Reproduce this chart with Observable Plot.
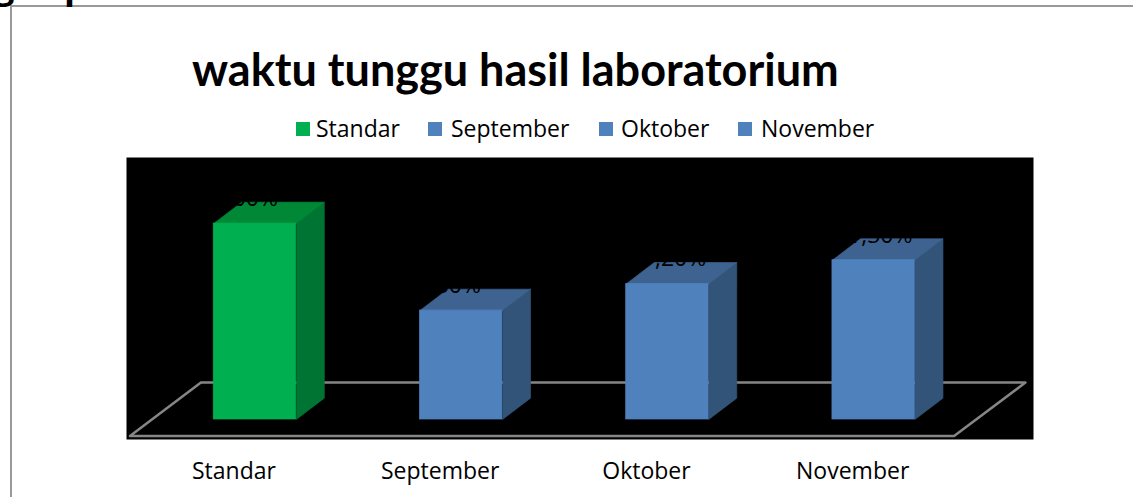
<!DOCTYPE html>
<html><head><meta charset="utf-8">
<script src="https://cdn.jsdelivr.net/npm/d3@7"></script>
<script src="https://cdn.jsdelivr.net/npm/@observablehq/plot@0.6"></script>
<style>
html,body{margin:0;padding:0;background:#fff;overflow:hidden;}
#page{position:relative;width:1133px;height:497px;overflow:hidden;font-family:"Open Sans",sans-serif;color:#000;}
#edge{position:absolute;left:10px;top:5px;right:-4px;bottom:-4px;border-left:2px solid #999;border-top:2px solid #999;}
#clip{position:absolute;left:-6px;top:-40px;font:bold 36px "Open Sans",sans-serif;}
#clip span{position:absolute;top:0;}
#title{position:absolute;left:192px;top:40px;font:bold 45px Lato,sans-serif;white-space:nowrap;line-height:58px;}
#legend span{position:absolute;top:112px;font-size:23px;line-height:32px;white-space:nowrap;}
#legend i{position:absolute;top:122px;width:14px;height:14px;}
#chart{position:absolute;left:0;top:157px;}
</style></head><body>
<div id="page">
<div id="edge"></div>
<div id="clip"><span style="left:0">g</span><span style="left:70px">p</span></div>
<div id="title">waktu tunggu hasil laboratorium</div>
<div id="legend"></div>
<div id="chart"></div>
</div>
<script>
const categories = ["Standar","September","Oktober","November"];
const values = [100, 55.6, 69.2, 81.3];
const valueLabels = ["100%","55,60%","69,20%","81,30%"];
const labelShift = [-0.03,-0.092,0,0];
const frontColors = ["#00B050","#4F81BD","#4F81BD","#4F81BD"];
const sideColors = ["#007533","#335479","#335479","#335479"];
const topColors = ["#008837","#3F6391","#3F6391","#3F6391"];
const legendSwatchX = [296,428,599,738];
const legendTextX = [316,451,621,761];

const legend = document.getElementById("legend");
categories.forEach((c,i)=>{
  const sw=document.createElement("i"); sw.style.left=legendSwatchX[i]+"px"; sw.style.background=frontColors[i]; legend.appendChild(sw);
  const t=document.createElement("span"); t.textContent=c; t.style.left=legendTextX[i]+"px"; legend.appendChild(t);
});

const halfW = 0.2, depthX = 0.136, depthY = 10.9;
const rows = categories.map((c,i)=>({i,c,v:values[i],label:valueLabels[i],shift:labelShift[i],front:frontColors[i],side:sideColors[i],top:topColors[i]}));
const sides = rows.flatMap(d=>[[0,0],[depthX,depthY],[depthX,d.v+depthY],[0,d.v]].map(([a,b])=>({id:d.i,x:d.i+halfW+a,y:b,fill:d.side})));
const tops = rows.flatMap(d=>[[-halfW,0],[-halfW+depthX,depthY],[halfW+depthX,depthY],[halfW,0]].map(([a,b])=>({id:d.i,x:d.i+a,y:d.v+b,fill:d.top})));
const floor = [[-0.606,-8.4],[3.39,-8.4],[3.736,18.9],[-0.262,18.9],[-0.606,-8.4]].map(([x,y])=>({x,y}));

const chart = Plot.plot({
  width:1133, height:340,
  marginLeft:126, marginRight:100, marginTop:0, marginBottom:58,
  x:{domain:[-0.623,3.775], axis:null},
  y:{domain:[-10.2,133.7], axis:null},
  style:{fontFamily:'"Open Sans",sans-serif',background:"transparent",overflow:"visible"},
  marks:[
    Plot.frame({fill:"#000",stroke:"none"}),
    Plot.line(floor,{x:"x",y:"y",stroke:"#868686",strokeWidth:2.5,curve:"linear"}),
    Plot.line(sides,{x:"x",y:"y",z:"id",fill:"fill",stroke:"fill",strokeWidth:0.7}),
    Plot.line(tops,{x:"x",y:"y",z:"id",fill:"fill",stroke:"fill",strokeWidth:0.7}),
    Plot.rect(rows,{x1:d=>d.i-halfW,x2:d=>d.i+halfW,y1:()=>0,y2:"v",fill:"front",stroke:"front",strokeWidth:0.7}),
    Plot.text(rows,{x:d=>d.i+d.shift,y:"v",text:"label",fill:"#000",fontSize:23,dy:-25,lineAnchor:"middle"}),
    Plot.axisX({anchor:"bottom",ticks:[0,1,2,3],tickFormat:i=>categories[i],tickSize:0,tickPadding:23,dx:-21,fontSize:23,fill:"#000",label:null})
  ]
});
document.getElementById("chart").appendChild(chart);
</script>
</body></html>
